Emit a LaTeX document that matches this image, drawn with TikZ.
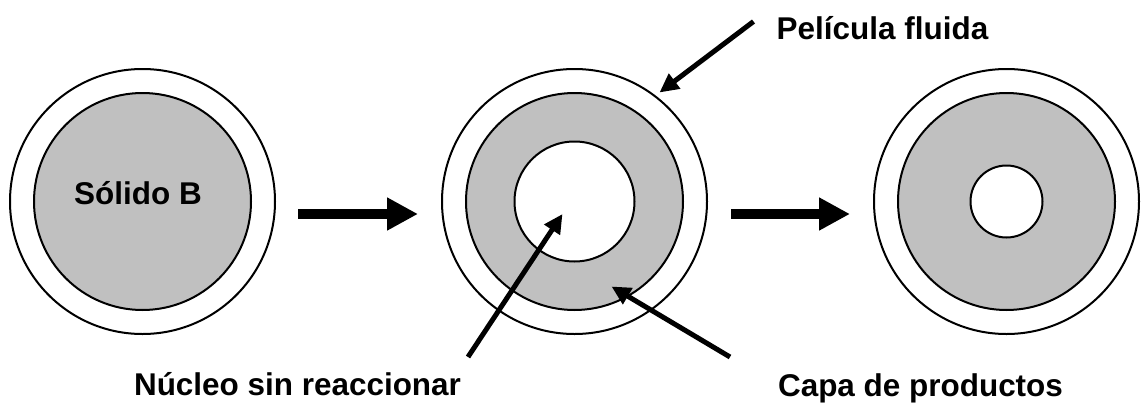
\documentclass[tikz,border=0pt]{standalone}
\usepackage{fontspec}
\setmainfont{Liberation Sans}
\usetikzlibrary{arrows.meta}
\definecolor{gris}{RGB}{192,192,192}
\tikzset{
    rotulo/.style={font=\fontsize{17.9}{21}\selectfont\bfseries, inner sep=0pt, anchor=base},
    flecha/.style={line width=0.1cm, -{Triangle[length=3.8mm,width=3.6mm]}},
    avance/.style={line width=0.21cm, -{Triangle[length=6.2mm,width=6.2mm]}}
}
\begin{document}
\begin{tikzpicture}
    \useasboundingbox (0,0) rectangle (22.88,8.1);
    % Partícula en tres etapas: película (r=2.65), capa gris (r=2.17), núcleo blanco
    \foreach \nom/\cx/\rn in {p1/2.85/0, p2/11.49/1.2, p3/20.13/0.72}{
        \coordinate (\nom) at (\cx,4.07);
        \draw[line width=0.04cm] (\nom) circle (2.65);
        \draw[line width=0.04cm, fill=gris] (\nom) circle (2.17);
        \ifdim \rn pt>0pt
            \draw[line width=0.04cm, fill=white] (\nom) circle (\rn);
        \fi
    }
    % Flechas de avance entre etapas
    \coordinate (a1i) at (5.96,3.82);
    \coordinate (a1f) at (8.36,3.82);
    \coordinate (a2i) at (14.62,3.82);
    \coordinate (a2f) at (17.0,3.82);
    \draw[avance] (a1i) -- (a1f);
    \draw[avance] (a2i) -- (a2f);
    % Rótulos
    \node[rotulo] (solido) at (2.76,4.02) {Sólido B};
    \node[rotulo] (pelicula) at (17.65,7.31) {Película fluida};
    \node[rotulo] (nucleo) at (5.95,0.19) {Núcleo sin reaccionar};
    \node[rotulo] (capa) at (18.41,0.18) {Capa de productos};
    % Extremos de las flechas indicadoras
    \coordinate (pelA) at (15.07,7.67);
    \coordinate (pelB) at (13.19,6.25);
    \coordinate (nucA) at (9.36,0.96);
    \coordinate (nucB) at (11.25,3.82);
    \coordinate (capA) at (14.6,0.96);
    \coordinate (capB) at (12.23,2.37);
    \draw[flecha] (pelA) -- (pelB);
    \draw[flecha] (nucA) -- (nucB);
    \draw[flecha] (capA) -- (capB);
\end{tikzpicture}
\end{document}
